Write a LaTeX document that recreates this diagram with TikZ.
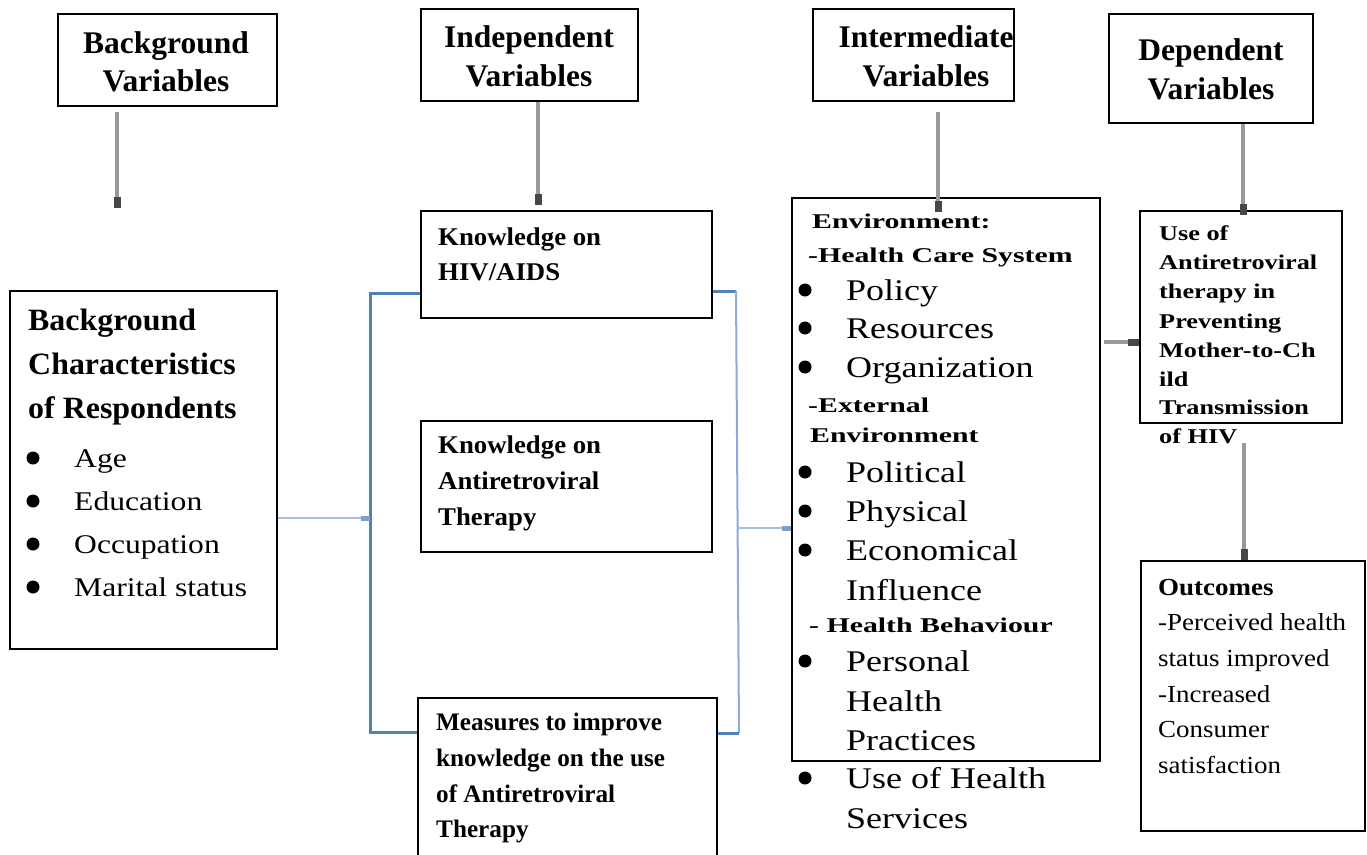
\documentclass[tikz,border=0pt]{standalone}
\usepackage{fontspec}
\setmainfont{Liberation Serif}
\usetikzlibrary{arrows.meta}
\newcommand\fsz[2]{\fontsize{#1}{#1}\selectfont\addfontfeature{FakeStretch=#2}}
\definecolor{cA}{HTML}{4F81BD}
\definecolor{cB}{HTML}{A7BFDE}
\definecolor{cC}{HTML}{8EAADB}
\definecolor{cD}{HTML}{7FA0CF}
\begin{document}
\begin{tikzpicture}[x=1pt,y=-1pt,
  box/.style={draw=black, line width=1.6pt, rectangle, inner sep=0pt, anchor=north west},
  tw/.style={anchor=base west, inner sep=0pt},
  hd/.style={anchor=base, inner sep=0pt, font=\fsz{31.5}{1}\bfseries},
  lbt/.style={tw, font=\fsz{31}{1.03}\bfseries},
  li/.style={tw, font=\fsz{27}{1.17}},
  kb/.style={tw, font=\fsz{25.5}{1.05}\bfseries},
  mb/.style={tw, font=\fsz{25.2}{1}\bfseries},
  ib/.style={tw, font=\fsz{21}{1.42}\bfseries},
  ii/.style={tw, font=\fsz{30}{1.2}},
  db/.style={tw, font=\fsz{21}{1.25}\bfseries},
  ob/.style={tw, font=\fsz{24.5}{1.1}\bfseries},
  oi/.style={tw, font=\fsz{24.5}{1.1}},
  garrow/.style={draw=black!40, line width=3.5pt, -{Rectangle[length=11pt,width=7pt,color=black!72]}},
  bl/.style={draw=cA, line width=3pt},
  rbl/.style={draw=cC, line width=2pt},
  lbl/.style={draw=cB, line width=2.5pt, -{Rectangle[length=9pt,width=5pt,color=cD]}}
]
\useasboundingbox (0,0) rectangle (1367,854);
\fill[white] (0,0) rectangle (1367,854);

% header boxes
\node[box, minimum width=219pt, minimum height=92pt] (h1) at (57,13) {};
\node[box, minimum width=217pt, minimum height=92pt] (h2) at (420,8) {};
\node[box, minimum width=201pt, minimum height=92pt] (h3) at (812,8) {};
\node[box, minimum width=204pt, minimum height=109pt] (h4) at (1108,13) {};
\node[hd] (h1a) at (166,53) {Background};
\node[hd] (h1b) at (166,91) {Variables};
\node[hd] (h2a) at (529,47) {Independent};
\node[hd] (h2b) at (529,86) {Variables};
\node[hd] (h3a) at (926,47) {Intermediate};
\node[hd] (h3b) at (926,86) {Variables};
\node[hd] (h4a) at (1211,60) {Dependent};
\node[hd] (h4b) at (1211,99) {Variables};

% background characteristics
\node[box, minimum width=267pt, minimum height=358pt] (bg) at (9,290) {};
\foreach \y/\t [count=\i] in {330/Background, 374/Characteristics, 418/of Respondents}
  \node[lbt] (bgt\i) at (28,\y) {\t};
\foreach \y/\t [count=\i] in {467/Age, 510/Education, 553/Occupation, 596/Marital status}
  {\node[li] (bgi\i) at (74,\y) {\t}; \fill (33,{\y-9}) circle (6.5pt);}

% independent boxes
\node[box, minimum width=291pt, minimum height=107pt] (kh) at (420,210) {};
\node[kb] (kh1) at (438,245) {Knowledge on};
\node[kb] (kh2) at (438,280) {HIV/AIDS};
\node[box, minimum width=291pt, minimum height=131pt] (ka) at (420,420) {};
\node[kb] (ka1) at (438,453) {Knowledge on};
\node[kb] (ka2) at (438,489) {Antiretroviral};
\node[kb] (ka3) at (438,525) {Therapy};
\node[box, minimum width=299pt, minimum height=175pt] (ms) at (417,697) {};
\node[mb] (ms1) at (436,730) {Measures to improve};
\node[mb] (ms2) at (436,766) {knowledge on the use};
\node[mb] (ms3) at (436,802) {of Antiretroviral};
\node[mb] (ms4) at (436,837) {Therapy};

% intermediate
\node[box, minimum width=308pt, minimum height=563pt] (iv) at (791,197) {};
\foreach \x/\y/\t [count=\i] in {812/228/Environment:, 808/262/-Health Care System, 808/412/-External, 810/442/Environment, 809/632/- Health Behaviour}
  \node[ib] (ivb\i) at (\x,\y) {\t};
\foreach \y/\t [count=\i] in {300/Policy, 338/Resources, 377/Organization, 482/Political, 521/Physical, 560/Economical, 600/Influence, 671/Personal, 711/Health, 750/Practices, 788/Use of Health, 828/Services}
  \node[ii] (ivi\i) at (846,\y) {\t};
\foreach \y in {300,338,377,482,521,560,671,788}
  \fill (805,{\y-10}) circle (6.5pt);

% dependent
\node[box, minimum width=202pt, minimum height=212pt] (dv) at (1139,210) {};
\foreach \y/\t [count=\i] in {240/Use of, 269/Antiretroviral, 298/therapy in, 328/Preventing, 357/Mother-to-Ch, 386/ild, 414/Transmission, 443/of HIV}
  \node[db] (dvt\i) at (1159,\y) {\t};

% outcomes
\node[box, minimum width=224pt, minimum height=270pt] (oc) at (1140,560) {};
\node[ob] (oc0) at (1158,595) {Outcomes};
\foreach \y/\t [count=\i] in {630/-Perceived health, 666/status improved, 702/-Increased, 737/Consumer, 773/satisfaction}
  \node[oi] (oct\i) at (1158,\y) {\t};

% grey arrows
\coordinate (a1s) at (117,112);
\coordinate (a1e) at (117,208);
\draw[garrow] (a1s) -- (a1e);
\coordinate (a2e) at (538,205);
\draw[garrow] (h2.south -| a2e) -- (a2e);
\coordinate (a3s) at (938,112);
\draw[garrow] (a3s) -- (iv.north -| a3s) -- ++(0,15);
\coordinate (a4e) at (1243,215);
\draw[garrow] (h4.south -| a4e) -- (a4e);
\coordinate (a5s) at (1244,443);
\draw[garrow] (a5s) -- (oc.north -| a5s);
\coordinate (a6s) at (1104,342);
\draw[garrow] (a6s) -- (dv.west |- a6s);

% blue brackets
\coordinate (LBt) at (370,293);
\coordinate (LBb) at (370,732);
\coordinate (LBm) at (370,518);
\draw[bl] (kh.west |- LBt) -- (LBt) -- (LBb) -- (ms.west |- LBb);
\draw[lbl] (bg.east |- LBm) -- (LBm);
\coordinate (RBt) at (736,291);
\coordinate (RBb) at (739,733);
\coordinate (RBm) at (739,528);
\draw[bl] (kh.east |- RBt) -- (RBt);
\draw[rbl] (RBt) -- (RBb);
\draw[bl] (ms.east |- RBb) -- (RBb);
\draw[lbl] (RBm) -- (iv.west |- RBm);
\end{tikzpicture}
\end{document}
